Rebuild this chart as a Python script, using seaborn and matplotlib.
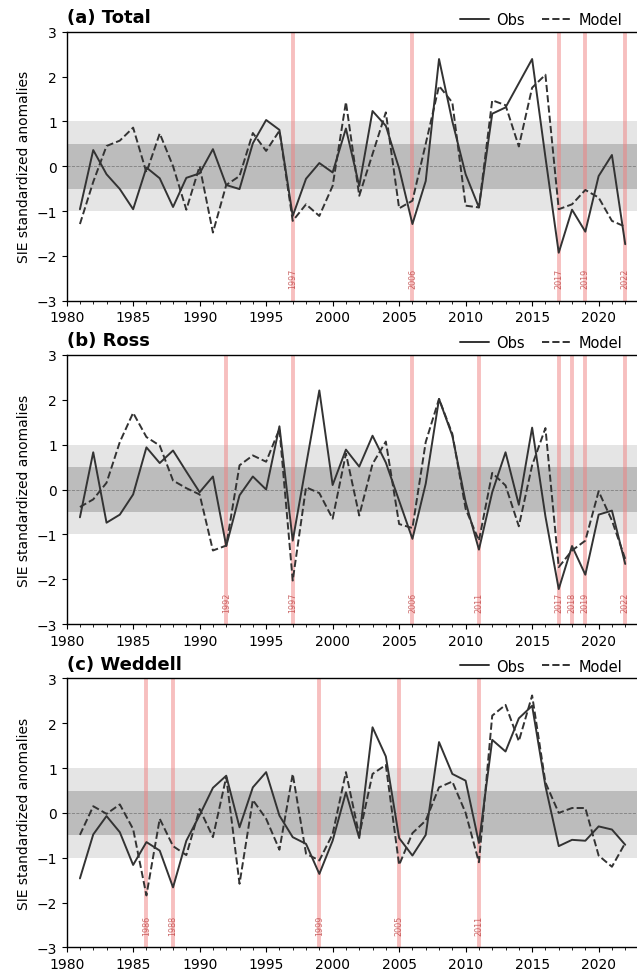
import numpy as np
import pandas as pd
import matplotlib
matplotlib.use("Agg")
import matplotlib.pyplot as plt
from matplotlib.ticker import MultipleLocator
import seaborn as sns

years = list(range(1981, 2023))

total_obs = [-0.96, 0.36, -0.18, -0.51, -0.96, -0.03, -0.27, -0.91, -0.26, -0.16,
             0.38, -0.42, -0.51, 0.51, 1.03, 0.81, -1.11, -0.28, 0.07, -0.14,
             0.84, -0.44, 1.23, 0.90, -0.05, -1.29, -0.33, 2.39, 1.00, -0.18,
             -0.92, 1.17, 1.31, 1.85, 2.39, 0.20, -1.93, -0.97, -1.46, -0.22,
             0.25, -1.74]
total_model = [-1.29, -0.35, 0.45, 0.57, 0.86, -0.14, 0.73, 0.00, -0.97, 0.00,
               -1.48, -0.42, -0.22, 0.74, 0.34, 0.79, -1.22, -0.85, -1.11, -0.44,
               1.43, -0.66, 0.27, 1.20, -0.94, -0.77, 0.50, 1.79, 1.42, -0.88,
               -0.92, 1.47, 1.36, 0.44, 1.75, 2.04, -0.96, -0.85, -0.53, -0.70,
               -1.22, -1.35]

ross_obs = [-0.62, 0.83, -0.74, -0.56, -0.11, 0.94, 0.59, 0.87, 0.40, -0.06,
            0.29, -1.26, -0.13, 0.29, 0.00, 1.41, -1.14, 0.54, 2.21, 0.10,
            0.89, 0.51, 1.20, 0.60, -0.25, -1.10, 0.13, 2.02, 1.20, -0.28,
            -1.34, -0.06, 0.83, -0.34, 1.38, -0.60, -2.22, -1.26, -1.90, -0.56,
            -0.47, -1.66]
ross_model = [-0.39, -0.22, 0.15, 1.06, 1.71, 1.17, 0.98, 0.20, 0.03, -0.11,
              -1.36, -1.25, 0.54, 0.76, 0.62, 1.35, -2.03, 0.05, -0.08, -0.65,
              0.80, -0.58, 0.57, 1.07, -0.77, -0.86, 1.06, 2.02, 1.24, -0.43,
              -1.14, 0.37, 0.09, -0.82, 0.54, 1.37, -1.73, -1.36, -1.14, -0.04,
              -0.69, -1.55]

weddell_obs = [-1.46, -0.48, -0.07, -0.43, -1.16, -0.65, -0.84, -1.66, -0.62, -0.05,
               0.56, 0.83, -0.32, 0.57, 0.91, -0.06, -0.54, -0.69, -1.36, -0.62,
               0.46, -0.56, 1.91, 1.26, -0.56, -0.95, -0.49, 1.58, 0.87, 0.72,
               -0.67, 1.63, 1.37, 2.11, 2.39, 0.60, -0.74, -0.60, -0.62, -0.30,
               -0.37, -0.71]
weddell_model = [-0.49, 0.15, -0.02, 0.19, -0.36, -1.84, -0.13, -0.74, -0.94, 0.09,
                 -0.54, 0.80, -1.58, 0.29, -0.13, -0.82, 0.87, -0.91, -1.06, -0.47,
                 0.91, -0.50, 0.87, 1.07, -1.16, -0.45, -0.17, 0.57, 0.70, 0.00,
                 -1.10, 2.17, 2.41, 1.60, 2.62, 0.68, 0.00, 0.11, 0.11, -0.95,
                 -1.20, -0.67]

titles = ["(a) Total", "(b) Ross", "(c) Weddell"]
total_events = [1997, 2006, 2017, 2019, 2022]
ross_events = [1992, 1997, 2006, 2011, 2017, 2018, 2019, 2022]
weddell_events = [1986, 1988, 1999, 2005, 2011]

panels = [
    (titles[0], total_obs, total_model, total_events),
    (titles[1], ross_obs, ross_model, ross_events),
    (titles[2], weddell_obs, weddell_model, weddell_events),
]

sns.set_style("ticks")
plt.rcParams["font.family"] = ["DejaVu Sans"]
plt.rcParams.update({
    "text.color": "black", "axes.labelcolor": "black",
    "xtick.color": "black", "ytick.color": "black",
    "axes.edgecolor": "black", "axes.linewidth": 1.0,
})

fig = plt.figure(figsize=(6.37, 9.78), dpi=100)
left, width, height = 0.1046, 0.8978, 0.2751
bottoms = [0.6915, 0.3609, 0.0302]
line_color = "#333333"

for (title, obs, model, events), b in zip(panels, bottoms):
    ax = fig.add_axes([left, b, width, height])
    ax.axhspan(-1, 1, color="grey", alpha=0.2, lw=0, zorder=0)
    ax.axhspan(-0.5, 0.5, color="grey", alpha=0.4, lw=0, zorder=0)
    ax.axhline(0, color="grey", lw=0.6, ls="--", zorder=1)
    for ev in events:
        ax.axvline(ev, color="lightcoral", alpha=0.5, lw=2.8, zorder=1)
        ax.text(ev, -2.5, str(ev), rotation=90, ha="center", va="center",
                fontsize=5.8, color="firebrick", alpha=0.65, zorder=2)
    df = pd.DataFrame({"year": years, "Obs": obs, "Model": model})
    sns.lineplot(data=df, x="year", y="Obs", ax=ax, color=line_color, lw=1.4,
                 label="Obs", zorder=3)
    sns.lineplot(data=df, x="year", y="Model", ax=ax, color=line_color, lw=1.4,
                 ls="--", label="Model", zorder=3)
    ax.set_xlim(1980, 2023)
    ax.set_ylim(-3, 3)
    ax.xaxis.set_major_locator(MultipleLocator(5))
    ax.xaxis.set_minor_locator(MultipleLocator(1))
    ax.yaxis.set_major_locator(MultipleLocator(1))
    ax.tick_params(axis="both", labelsize=10)
    ax.set_xlabel("")
    ax.set_ylabel("SIE standardized anomalies", fontsize=10)
    ax.set_title(title, loc="left", fontsize=13, fontweight="bold", pad=7)
    ax.legend(loc="lower right", bbox_to_anchor=(0.972, 1.018), ncol=2,
              frameon=False, fontsize=10.5, columnspacing=1.2,
              handletextpad=0.5, borderaxespad=0, borderpad=0)

fig.savefig("out.png", dpi=100)
